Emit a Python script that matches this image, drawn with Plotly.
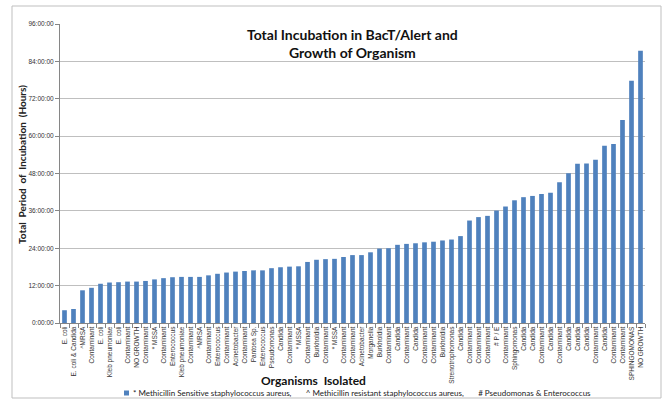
import plotly.graph_objects as go

organisms = [
    "E. coli", "E. coli & Candida", "^MRSA", "Contaminant", "E. coli", "Kleb pneumoniae",
    "E. coli", "Contaminant", "NO GROWTH", "Contaminant", "* MSSA", "Contaminant",
    "Enterococcus", "Kleb pneumoniae", "Contaminant", "^MRSA", "Contaminant", "Enterococcus",
    "Contaminant", "Acinetobacter", "Contaminant", "Pantoea Sp.", "Enterococcus", "Pseudomonas",
    "Candida", "Contaminant", "* MSSA", "Contaminant", "Burkholdia", "Contaminant", "* MSSA",
    "Contaminant", "Contaminant", "Acinetobacter", "Morganella", "Burkholdia", "Contaminant",
    "Candida", "Contaminant", "Candida", "Contaminant", "Contaminant", "Burkholdia",
    "Strenotrophomonas", "Candida", "Contaminant", "Contaminant", "Contaminant", "# P / E",
    "Contaminant", "Sphingomonas", "Candida", "Candida", "Contaminant", "Candida",
    "Contaminant", "Candida", "Candida", "Candida", "Contaminant", "Candida", "Contaminant",
    "Contaminant", "SPHINGOMONAS", "NO GROWTH",
]

hours = [
    4.1, 4.5, 10.5, 11.3, 12.6, 13.0, 13.1, 13.3, 13.3, 13.5, 14.0, 14.4, 14.7, 14.8, 14.8,
    14.8, 15.3, 15.8, 16.2, 16.5, 16.7, 16.9, 16.9, 17.6, 17.9, 18.1, 18.2, 19.6, 20.3, 20.5,
    20.6, 21.2, 21.8, 21.8, 22.7, 23.9, 24.0, 25.1, 25.4, 25.6, 25.9, 26.1, 26.5, 26.8, 27.9,
    32.9, 34.0, 34.4, 36.1, 37.4, 39.4, 40.4, 40.8, 41.4, 41.8, 45.2, 48.1, 51.1, 51.2, 52.4,
    56.9, 57.5, 65.2, 77.8, 87.4,
]

y_ticks = [0, 12, 24, 36, 48, 60, 72, 84, 96]
y_tick_labels = [f"{h}:00:00" for h in y_ticks]

GAP = "\u00a0" * 7
legend_text = ("* Methicillin Sensitive staphylococcus aureus," + GAP +
               "^ Methicillin resistant staphylococcus aureus," + GAP +
               "# Pseudomonas & Enterococcus")

BAR_COLOR = "#4F81BD"
idx = list(range(len(hours)))

fig = go.Figure()
fig.add_trace(go.Bar(
    x=idx, y=hours, name="Incubation",
    marker=dict(color=BAR_COLOR, line=dict(width=0)),
    width=0.52, showlegend=False,
))

W, H = 670, 401
L, R, T, B = 60, 25, 24, 78
pw, ph = W - L - R, H - T - B

def px(x):
    return (x - L) / pw

def py(y):
    return (H - B - y) / ph

fig.update_layout(
    width=W, height=H,
    margin=dict(l=L, r=R, t=T, b=B, autoexpand=False),
    paper_bgcolor="white", plot_bgcolor="white",
    font=dict(family="Liberation Sans, Arial, sans-serif", color="#404040"),
    showlegend=False,
    xaxis=dict(
        range=[-0.5, len(hours) - 0.5],
        tickmode="array", tickvals=idx, ticktext=organisms, tickangle=-90,
        ticks="", tickfont=dict(size=6.5, color="#333"),
        showgrid=False, showline=True, linecolor="#868686", linewidth=1,
        zeroline=False, fixedrange=True, automargin=False,
        minor=dict(tickvals=[i - 0.5 for i in range(len(hours) + 1)], ticks="outside",
                   ticklen=4, tickcolor="#868686", showgrid=False),
    ),
    yaxis=dict(
        range=[0, 96], tickmode="array", tickvals=y_ticks, ticktext=y_tick_labels,
        tickfont=dict(size=6.5, color="#333"), ticks="outside", ticklen=4,
        tickcolor="#868686", showgrid=True, gridcolor="#BFBFBF", gridwidth=1,
        showline=True, linecolor="#868686", linewidth=1, zeroline=False, automargin=False,
    ),
    annotations=[
        dict(text="<b>Total Incubation in BacT/Alert and<br>Growth of Organism</b>",
             x=px(352), y=py(44), xref="paper", yref="paper", showarrow=False,
             font=dict(size=14, family="Lato, Liberation Sans, sans-serif", color="#111"),
             xanchor="center", yanchor="middle"),
        dict(text="<b>Total\u00a0 Period\u00a0 of\u00a0 Incubation\u00a0 (Hours)</b>",
             x=px(22), y=py(165), xref="paper", yref="paper", showarrow=False,
             textangle=-90, font=dict(size=10, family="Lato, Liberation Sans, sans-serif",
                                      color="#222"),
             xanchor="center", yanchor="middle"),
        dict(text="<b>Organisms\u00a0 Isolated</b>",
             x=px(313), y=py(380), xref="paper", yref="paper", showarrow=False,
             font=dict(size=12, family="Lato, Liberation Sans, sans-serif", color="#111"),
             xanchor="center", yanchor="middle"),
        dict(text=legend_text,
             x=px(131), y=py(393), xref="paper", yref="paper", showarrow=False,
             font=dict(size=8, family="Lato, Liberation Sans, sans-serif", color="#222"),
             xanchor="left", yanchor="middle"),
    ],
    shapes=[
        dict(type="rect", xref="paper", yref="paper",
             x0=px(12), x1=px(661), y0=py(398), y1=py(6),
             line=dict(color="#BFBFBF", width=1), fillcolor="rgba(0,0,0,0)", layer="below"),
        dict(type="rect", xref="paper", yref="paper",
             x0=px(124), x1=px(129), y0=py(395.5), y1=py(390.5),
             line=dict(width=0), fillcolor=BAR_COLOR),
    ],
)

fig.write_html("out.html")
